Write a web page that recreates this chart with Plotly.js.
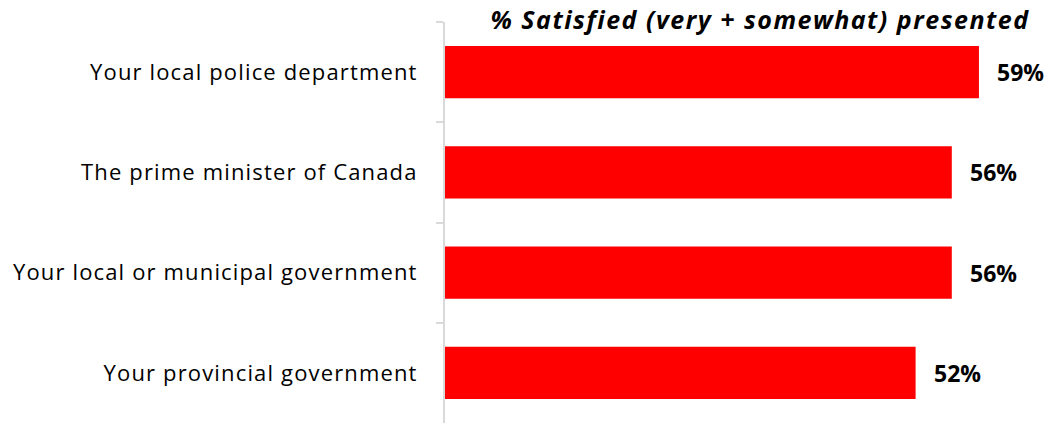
<!DOCTYPE html>
<html>
<head>
<meta charset="utf-8">
<script src="https://cdn.plot.ly/plotly-3.0.1.min.js"></script>
<style>
html,body{margin:0;padding:0;background:#fff;}
#chart{width:1046px;height:423px;}
#chart .ytick text{letter-spacing:1.15px;}
#chart .gtitle{letter-spacing:1.5px;}
</style>
</head>
<body>
<div id="chart"></div>
<script>
const categories = [
  "Your local police department",
  "The prime minister of Canada",
  "Your local or municipal government",
  "Your provincial government"
];
const values = [59, 56, 56, 52];
const valueLabels = ["59%", "56%", "56%", "52%"];
const chartTitle = "% Satisfied (very + somewhat) presented";

const FONT = "'Open Sans', sans-serif";

const trace = {
  type: "bar",
  orientation: "h",
  y: categories,
  x: values,
  marker: {color: "#ff0000"},
  hoverinfo: "none",
  cliponaxis: false
};

const annotations = values.map((v, i) => ({
  x: v, y: categories[i], xref: "x", yref: "y",
  text: "<b>" + valueLabels[i] + "</b>",
  showarrow: false, xanchor: "left", yanchor: "middle", xshift: 16,
  font: {family: FONT, size: 23, color: "#000"}
}));

const layout = {
  width: 1046, height: 423,
  margin: {l: 445, r: 0, t: 22, b: 0},
  paper_bgcolor: "#fff", plot_bgcolor: "#fff",
  showlegend: false,
  bargap: 0.48,
  title: {
    text: "<b><i>" + chartTitle + "</i></b>",
    xref: "container", yref: "container",
    x: 760/1046, xanchor: "center",
    y: 1 - 20/423, yanchor: "middle",
    font: {family: FONT, size: 25, color: "#000"}
  },
  xaxis: {
    range: [0, 601/9.05], visible: false, fixedrange: true
  },
  yaxis: {
    type: "category",
    autorange: "reversed",
    showline: true, linecolor: "#d9d9d9", linewidth: 2,
    ticks: "outside", tickson: "boundaries", ticklen: 7, tickwidth: 2, tickcolor: "#d9d9d9",
    ticklabelstandoff: 21,
    showgrid: false, zeroline: false,
    tickfont: {family: FONT, size: 22, color: "#000"},
    fixedrange: true
  },
  annotations: annotations
};

Plotly.newPlot("chart", [trace], layout, {displayModeBar: false, staticPlot: true});
</script>
</body>
</html>
